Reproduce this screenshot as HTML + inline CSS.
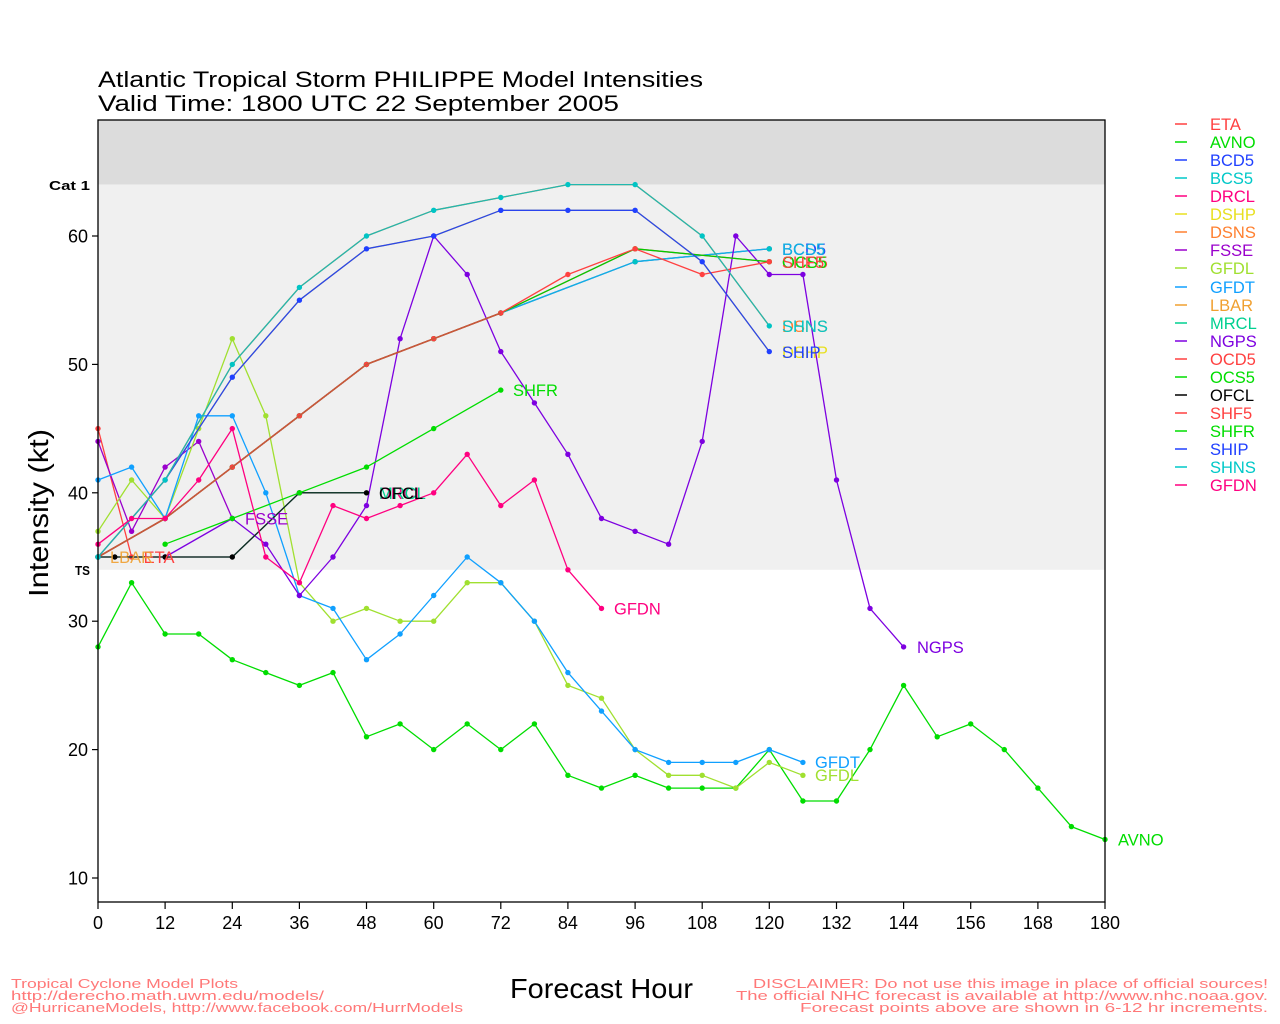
<!DOCTYPE html>
<html><head><meta charset="utf-8"><style>
html,body{margin:0;padding:0;background:#fff;}
svg{display:block;font-family:"Liberation Sans",sans-serif;}
</style></head><body>
<svg width="1280" height="1024" viewBox="0 0 1280 1024" xmlns="http://www.w3.org/2000/svg">
<defs>
<marker id="mR" viewBox="0 0 6 6" refX="3" refY="3" markerWidth="6" markerHeight="6" markerUnits="userSpaceOnUse"><circle cx="3" cy="3" r="2.7" fill="#ff4040"/></marker>
<marker id="mG" viewBox="0 0 6 6" refX="3" refY="3" markerWidth="6" markerHeight="6" markerUnits="userSpaceOnUse"><circle cx="3" cy="3" r="2.7" fill="#00dd00"/></marker>
<marker id="mB" viewBox="0 0 6 6" refX="3" refY="3" markerWidth="6" markerHeight="6" markerUnits="userSpaceOnUse"><circle cx="3" cy="3" r="2.7" fill="#2040ff"/></marker>
<marker id="mC" viewBox="0 0 6 6" refX="3" refY="3" markerWidth="6" markerHeight="6" markerUnits="userSpaceOnUse"><circle cx="3" cy="3" r="2.7" fill="#00c4c4"/></marker>
<marker id="mP" viewBox="0 0 6 6" refX="3" refY="3" markerWidth="6" markerHeight="6" markerUnits="userSpaceOnUse"><circle cx="3" cy="3" r="2.7" fill="#ff0080"/></marker>
<marker id="mF" viewBox="0 0 6 6" refX="3" refY="3" markerWidth="6" markerHeight="6" markerUnits="userSpaceOnUse"><circle cx="3" cy="3" r="2.7" fill="#9a00cc"/></marker>
<marker id="mL" viewBox="0 0 6 6" refX="3" refY="3" markerWidth="6" markerHeight="6" markerUnits="userSpaceOnUse"><circle cx="3" cy="3" r="2.7" fill="#a0e030"/></marker>
<marker id="mT" viewBox="0 0 6 6" refX="3" refY="3" markerWidth="6" markerHeight="6" markerUnits="userSpaceOnUse"><circle cx="3" cy="3" r="2.7" fill="#10a0ff"/></marker>
<marker id="mA" viewBox="0 0 6 6" refX="3" refY="3" markerWidth="6" markerHeight="6" markerUnits="userSpaceOnUse"><circle cx="3" cy="3" r="2.7" fill="#f0a030"/></marker>
<marker id="mN" viewBox="0 0 6 6" refX="3" refY="3" markerWidth="6" markerHeight="6" markerUnits="userSpaceOnUse"><circle cx="3" cy="3" r="2.7" fill="#7d00e0"/></marker>
<marker id="mK" viewBox="0 0 6 6" refX="3" refY="3" markerWidth="6" markerHeight="6" markerUnits="userSpaceOnUse"><circle cx="3" cy="3" r="2.7" fill="#000"/></marker>
</defs>

<text x="98" y="87" font-size="22" fill="#000" textLength="605" lengthAdjust="spacingAndGlyphs">Atlantic Tropical Storm PHILIPPE Model Intensities</text>
<text x="98" y="111" font-size="22" fill="#000" textLength="521" lengthAdjust="spacingAndGlyphs">Valid Time: 1800 UTC 22 September 2005</text>

<rect x="98" y="120" width="1007" height="64.6" fill="#dcdcdc"/>
<rect x="98" y="184.6" width="1007" height="385.2" fill="#f0f0f0"/>

<text x="49" y="190" font-size="13" font-weight="bold" fill="#000" textLength="41" lengthAdjust="spacingAndGlyphs">Cat 1</text>
<text x="75" y="575" font-size="13" font-weight="bold" fill="#000" textLength="15" lengthAdjust="spacingAndGlyphs">TS</text>

<g stroke="#000" stroke-width="1.2">
<line x1="92" y1="236" x2="98" y2="236"/>
<line x1="92" y1="364.4" x2="98" y2="364.4"/>
<line x1="92" y1="492.8" x2="98" y2="492.8"/>
<line x1="92" y1="621.2" x2="98" y2="621.2"/>
<line x1="92" y1="749.6" x2="98" y2="749.6"/>
<line x1="92" y1="878" x2="98" y2="878"/>
</g>
<g font-size="18" text-anchor="end" fill="#000">
<text x="88" y="242.5">60</text>
<text x="88" y="370.9">50</text>
<text x="88" y="499.3">40</text>
<text x="88" y="627.7">30</text>
<text x="88" y="756.1">20</text>
<text x="88" y="884.5">10</text>
</g>

<g stroke="#000" stroke-width="1.2">
<line x1="98" y1="902" x2="98" y2="909"/>
<line x1="165.1" y1="902" x2="165.1" y2="909"/>
<line x1="232.3" y1="902" x2="232.3" y2="909"/>
<line x1="299.4" y1="902" x2="299.4" y2="909"/>
<line x1="366.5" y1="902" x2="366.5" y2="909"/>
<line x1="433.7" y1="902" x2="433.7" y2="909"/>
<line x1="500.8" y1="902" x2="500.8" y2="909"/>
<line x1="567.9" y1="902" x2="567.9" y2="909"/>
<line x1="635.1" y1="902" x2="635.1" y2="909"/>
<line x1="702.2" y1="902" x2="702.2" y2="909"/>
<line x1="769.3" y1="902" x2="769.3" y2="909"/>
<line x1="836.5" y1="902" x2="836.5" y2="909"/>
<line x1="903.6" y1="902" x2="903.6" y2="909"/>
<line x1="970.7" y1="902" x2="970.7" y2="909"/>
<line x1="1037.9" y1="902" x2="1037.9" y2="909"/>
<line x1="1105" y1="902" x2="1105" y2="909"/>
</g>
<g font-size="18" text-anchor="middle" fill="#000">
<text x="98" y="929">0</text>
<text x="165.1" y="929">12</text>
<text x="232.3" y="929">24</text>
<text x="299.4" y="929">36</text>
<text x="366.5" y="929">48</text>
<text x="433.7" y="929">60</text>
<text x="500.8" y="929">72</text>
<text x="567.9" y="929">84</text>
<text x="635.1" y="929">96</text>
<text x="702.2" y="929">108</text>
<text x="769.3" y="929">120</text>
<text x="836.5" y="929">132</text>
<text x="903.6" y="929">144</text>
<text x="970.7" y="929">156</text>
<text x="1037.9" y="929">168</text>
<text x="1105" y="929">180</text>
</g>

<text x="510" y="998" font-size="28" fill="#000" textLength="183" lengthAdjust="spacingAndGlyphs">Forecast Hour</text>
<text transform="translate(48,597) rotate(-90)" font-size="28" fill="#000" textLength="168" lengthAdjust="spacingAndGlyphs">Intensity (kt)</text>

<g fill="none" stroke-width="1.3" stroke-linejoin="round">
<polyline stroke="#ff4040" marker-start="url(#mR)" marker-mid="url(#mR)" marker-end="url(#mR)" points="98,428.6 131.6,557"/>
<polyline stroke="#00dd00" marker-start="url(#mG)" marker-mid="url(#mG)" marker-end="url(#mG)" points="98,646.9 131.6,582.7 165.1,634 198.7,634 232.3,659.7 265.8,672.6 299.4,685.4 333,672.6 366.5,736.8 400.1,723.9 433.7,749.6 467.2,723.9 500.8,749.6 534.4,723.9 567.9,775.3 601.5,788.1 635.1,775.3 668.6,788.1 702.2,788.1 735.8,788.1 769.3,749.6 802.9,801 836.5,801 870,749.6 903.6,685.4 937.2,736.8 970.7,723.9 1004.3,749.6 1037.9,788.1 1071.4,826.6 1105,839.5"/>
<polyline stroke="#2040ff" marker-start="url(#mB)" marker-mid="url(#mB)" marker-end="url(#mB)" points="98,557 165.1,518.5 232.3,467.1 299.4,415.8 366.5,364.4 433.7,338.7 500.8,313 635.1,261.7 769.3,248.8"/>
<polyline stroke="#10b4e0" marker-start="url(#mC)" marker-mid="url(#mC)" marker-end="url(#mC)" points="98,557 165.1,518.5 232.3,467.1 299.4,415.8 366.5,364.4 433.7,338.7 500.8,313 635.1,261.7 769.3,248.8"/>
<polyline stroke="#ff0080" points="98,557 165.1,557 232.3,557 299.4,492.8 366.5,492.8"/>
<polyline stroke="#e8e020" points="98,557 165.1,480 232.3,377.2 299.4,300.2 366.5,248.8 433.7,236 500.8,210.3 567.9,210.3 635.1,210.3 702.2,261.7 769.3,351.6"/>
<polyline stroke="#ff8030" points="98,557 165.1,480 232.3,364.4 299.4,287.4 366.5,236 433.7,210.3 500.8,197.5 567.9,184.6 635.1,184.6 702.2,236 769.3,325.9"/>
<polyline stroke="#9a00cc" marker-start="url(#mF)" marker-mid="url(#mF)" marker-end="url(#mF)" points="98,441.4 131.6,531.3 165.1,467.1 198.7,441.4 232.3,518.5"/>
<polyline stroke="#a0e030" marker-start="url(#mL)" marker-mid="url(#mL)" marker-end="url(#mL)" points="98,531.3 131.6,480 165.1,518.5 198.7,428.6 232.3,338.7 265.8,415.8 299.4,582.7 333,621.2 366.5,608.4 400.1,621.2 433.7,621.2 467.2,582.7 500.8,582.7 534.4,621.2 567.9,685.4 601.5,698.2 635.1,749.6 668.6,775.3 702.2,775.3 735.8,788.1 769.3,762.4 802.9,775.3"/>
<polyline stroke="#10a0ff" marker-start="url(#mT)" marker-mid="url(#mT)" marker-end="url(#mT)" points="98,480 131.6,467.1 165.1,518.5 198.7,415.8 232.3,415.8 265.8,492.8 299.4,595.5 333,608.4 366.5,659.7 400.1,634 433.7,595.5 467.2,557 500.8,582.7 534.4,621.2 567.9,672.6 601.5,711.1 635.1,749.6 668.6,762.4 702.2,762.4 735.8,762.4 769.3,749.6 802.9,762.4"/>
<polyline stroke="#f0a030" marker-start="url(#mA)" points="98,557 98,557"/>
<polyline stroke="#00d090" points="98,557 165.1,557 232.3,557 299.4,492.8 366.5,492.8"/>
<polyline stroke="#7d00e0" marker-start="url(#mN)" marker-mid="url(#mN)" marker-end="url(#mN)" points="165.1,557 232.3,518.5 265.8,544.2 299.4,595.5 333,557 366.5,505.6 400.1,338.7 433.7,236 467.2,274.5 500.8,351.6 534.4,402.9 567.9,454.3 601.5,518.5 635.1,531.3 668.6,544.2 702.2,441.4 735.8,236 769.3,274.5 802.9,274.5 836.5,480 870,608.4 903.6,646.9"/>
<polyline stroke="#ff4040" marker-start="url(#mR)" marker-mid="url(#mR)" marker-end="url(#mR)" points="98,557 165.1,518.5 232.3,467.1 299.4,415.8 366.5,364.4 433.7,338.7 500.8,313 635.1,248.8 769.3,261.7"/>
<polyline stroke="#00cc00" marker-start="url(#mG)" marker-mid="url(#mG)" marker-end="url(#mG)" points="98,557 165.1,518.5 232.3,467.1 299.4,415.8 366.5,364.4 433.7,338.7 500.8,313 635.1,248.8 769.3,261.7"/>
<polyline stroke="#102a20" marker-start="url(#mK)" marker-mid="url(#mK)" marker-end="url(#mK)" points="98,557 114.8,557 165.1,557 232.3,557 299.4,492.8 366.5,492.8"/>
<polyline stroke="#ff4040" marker-start="url(#mR)" marker-mid="url(#mR)" marker-end="url(#mR)" points="98,557 165.1,518.5 232.3,467.1 299.4,415.8 366.5,364.4 433.7,338.7 500.8,313 567.9,274.5 635.1,248.8 702.2,274.5 769.3,261.7"/>
<polyline stroke="#c8583a" stroke-width="1.6" points="98,557 165.1,518.5 232.3,467.1 299.4,415.8 366.5,364.4 433.7,338.7 500.8,313"/>
<polyline stroke="#00dd00" marker-start="url(#mG)" marker-mid="url(#mG)" marker-end="url(#mG)" points="165.1,544.2 232.3,518.5 299.4,492.8 366.5,467.1 433.7,428.6 500.8,390.1"/>
<polyline stroke="#2a44ee" marker-start="url(#mB)" marker-mid="url(#mB)" marker-end="url(#mB)" points="98,557 165.1,480 232.3,377.2 299.4,300.2 366.5,248.8 433.7,236 500.8,210.3 567.9,210.3 635.1,210.3 702.2,261.7 769.3,351.6"/>
<polyline stroke="#20b8b0" marker-start="url(#mC)" marker-mid="url(#mC)" marker-end="url(#mC)" points="98,557 165.1,480 232.3,364.4 299.4,287.4 366.5,236 433.7,210.3 500.8,197.5 567.9,184.6 635.1,184.6 702.2,236 769.3,325.9"/>
<polyline stroke="#ff0080" marker-start="url(#mP)" marker-mid="url(#mP)" marker-end="url(#mP)" points="98,544.2 131.6,518.5 165.1,518.5 198.7,480 232.3,428.6 265.8,557 299.4,582.7 333,505.6 366.5,518.5 400.1,505.6 433.7,492.8 467.2,454.3 500.8,505.6 534.4,480 567.9,569.8 601.5,608.4"/>
</g>
<circle cx="98" cy="557" r="2.7" fill="#00c4c4"/>

<g font-size="16.5">
<text x="143.6" y="563" fill="#ff4040">ETA</text>
<text x="110" y="563" fill="#f0a030" opacity="0.9">LBAR</text>
<text x="245" y="524.5" fill="#9a00cc">FSSE</text>
<text x="379" y="499" fill="#ff0080">DRCL</text>
<text x="379" y="499" fill="#00d090">MRCL</text>
<text x="379" y="499" fill="#000">OFCL</text>
<text x="513" y="396" fill="#00dd00">SHFR</text>
<text x="614" y="614.5" fill="#ff0080">GFDN</text>
<text x="782" y="255" fill="#2040ff">BCD5</text>
<text x="782" y="255" fill="#10b4e0">BCS5</text>
<text x="782" y="268" fill="#ff4040">OCD5</text>
<text x="782" y="268" fill="#00dd00">OCS5</text>
<text x="782" y="268" fill="#ff4040">SHF5</text>
<text x="782" y="332" fill="#ff8030">DSNS</text>
<text x="782" y="332" fill="#00c8c8">SHNS</text>
<text x="782" y="358" fill="#e8e020">DSHP</text>
<text x="782" y="358" fill="#2040ff">SHIP</text>
<text x="815" y="768" fill="#10a0ff">GFDT</text>
<text x="815" y="781" fill="#a0e030">GFDL</text>
<text x="917" y="653" fill="#7d00e0">NGPS</text>
<text x="1118" y="845.5" fill="#00dd00">AVNO</text>
</g>

<rect x="98" y="120" width="1007" height="782" fill="none" stroke="#000" stroke-width="1.3"/>

<g stroke-width="1.5">
<line x1="1175" y1="124" x2="1187" y2="124" stroke="#ff4040"/>
<line x1="1175" y1="142" x2="1187" y2="142" stroke="#00dd00"/>
<line x1="1175" y1="160" x2="1187" y2="160" stroke="#2040ff"/>
<line x1="1175" y1="178" x2="1187" y2="178" stroke="#00c8c8"/>
<line x1="1175" y1="196" x2="1187" y2="196" stroke="#ff0080"/>
<line x1="1175" y1="214" x2="1187" y2="214" stroke="#e8e020"/>
<line x1="1175" y1="232" x2="1187" y2="232" stroke="#ff8030"/>
<line x1="1175" y1="250" x2="1187" y2="250" stroke="#9a00cc"/>
<line x1="1175" y1="268" x2="1187" y2="268" stroke="#a0e030"/>
<line x1="1175" y1="287" x2="1187" y2="287" stroke="#10a0ff"/>
<line x1="1175" y1="305" x2="1187" y2="305" stroke="#f0a030"/>
<line x1="1175" y1="323" x2="1187" y2="323" stroke="#00d090"/>
<line x1="1175" y1="341" x2="1187" y2="341" stroke="#7d00e0"/>
<line x1="1175" y1="359" x2="1187" y2="359" stroke="#ff4040"/>
<line x1="1175" y1="377" x2="1187" y2="377" stroke="#00dd00"/>
<line x1="1175" y1="395" x2="1187" y2="395" stroke="#000"/>
<line x1="1175" y1="413" x2="1187" y2="413" stroke="#ff4040"/>
<line x1="1175" y1="431" x2="1187" y2="431" stroke="#00dd00"/>
<line x1="1175" y1="449" x2="1187" y2="449" stroke="#2040ff"/>
<line x1="1175" y1="467" x2="1187" y2="467" stroke="#00c8c8"/>
<line x1="1175" y1="485" x2="1187" y2="485" stroke="#ff0080"/>
</g>
<g font-size="16.5">
<text x="1210" y="130" fill="#ff4040">ETA</text>
<text x="1210" y="148" fill="#00dd00">AVNO</text>
<text x="1210" y="166" fill="#2040ff">BCD5</text>
<text x="1210" y="184" fill="#00c8c8">BCS5</text>
<text x="1210" y="202" fill="#ff0080">DRCL</text>
<text x="1210" y="220" fill="#e8e020">DSHP</text>
<text x="1210" y="238" fill="#ff8030">DSNS</text>
<text x="1210" y="256" fill="#9a00cc">FSSE</text>
<text x="1210" y="274" fill="#a0e030">GFDL</text>
<text x="1210" y="293" fill="#10a0ff">GFDT</text>
<text x="1210" y="311" fill="#f0a030">LBAR</text>
<text x="1210" y="329" fill="#00d090">MRCL</text>
<text x="1210" y="347" fill="#7d00e0">NGPS</text>
<text x="1210" y="365" fill="#ff4040">OCD5</text>
<text x="1210" y="383" fill="#00dd00">OCS5</text>
<text x="1210" y="401" fill="#000">OFCL</text>
<text x="1210" y="419" fill="#ff4040">SHF5</text>
<text x="1210" y="437" fill="#00dd00">SHFR</text>
<text x="1210" y="455" fill="#2040ff">SHIP</text>
<text x="1210" y="473" fill="#00c8c8">SHNS</text>
<text x="1210" y="491" fill="#ff0080">GFDN</text>
</g>

<g font-size="13" fill="#ff7878">
<text x="11" y="988" textLength="227" lengthAdjust="spacingAndGlyphs">Tropical Cyclone Model Plots</text>
<text x="11" y="1000" textLength="313" lengthAdjust="spacingAndGlyphs">http://derecho.math.uwm.edu/models/</text>
<text x="11" y="1012" textLength="452" lengthAdjust="spacingAndGlyphs">@HurricaneModels, http://www.facebook.com/HurrModels</text>
<text x="753" y="988" textLength="515" lengthAdjust="spacingAndGlyphs">DISCLAIMER: Do not use this image in place of official sources!</text>
<text x="736" y="1000" textLength="532" lengthAdjust="spacingAndGlyphs">The official NHC forecast is available at http://www.nhc.noaa.gov.</text>
<text x="800" y="1012" textLength="468" lengthAdjust="spacingAndGlyphs">Forecast points above are shown in 6-12 hr increments.</text>
</g>
</svg>
</body></html>
